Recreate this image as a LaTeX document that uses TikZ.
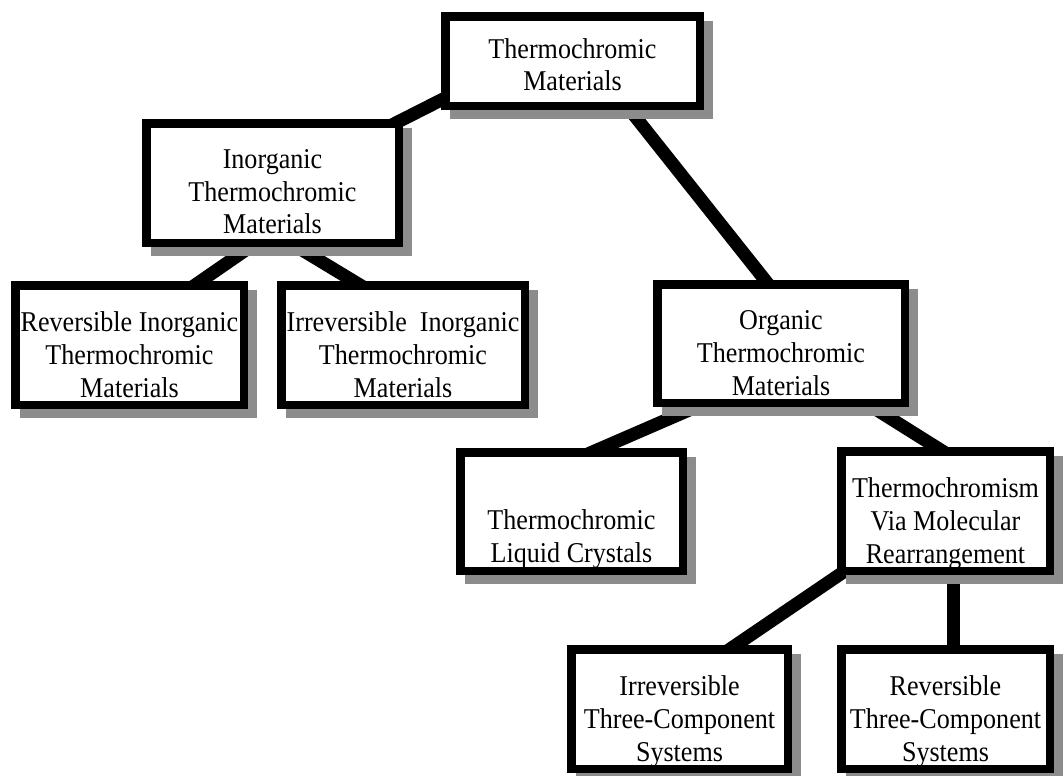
\documentclass[tikz,border=0pt]{standalone}
\usepackage{fontspec}
\setmainfont{Liberation Serif}[FakeStretch=0.91]
\pgfdeclarelayer{links}
\pgfsetlayers{links,main}
\definecolor{shade}{gray}{0.55}
\begin{document}
\begin{tikzpicture}[x=0.75pt,y=-0.75pt,
  box/.style={draw=black, line width=6.375pt, fill=white, inner sep=0pt, outer sep=0pt,
    preaction={draw=shade, fill=shade, line width=6.375pt,
      transform canvas={xshift=6.75pt,yshift=-6.75pt}}},
  txt/.style={inner sep=0pt, align=center, anchor=south, text depth=0pt,
    font=\fontsize{21.5}{24.5}\selectfont},
  link/.style={draw=black, line width=9.75pt, line cap=butt}
]
\useasboundingbox (0,0) rectangle (1063,775);

% boxes
\node[box, minimum width=190.875pt, minimum height=67.125pt] (T)   at (572.5,61) {};
\node[box, minimum width=189.375pt, minimum height=89.625pt] (inorg) at (272.5,183) {};
\node[box, minimum width=171.375pt, minimum height=89.625pt] (revin) at (129.5,345) {};
\node[box, minimum width=182.625pt, minimum height=89.625pt] (irrin) at (403,345) {};
\node[box, minimum width=185.625pt, minimum height=88.875pt] (org)   at (781,343.5) {};
\node[box, minimum width=166.875pt, minimum height=88.875pt] (tlc)   at (571.5,511.5) {};
\node[box, minimum width=156.375pt, minimum height=89.625pt] (rearr) at (945.5,511) {};
\node[box, minimum width=162.375pt, minimum height=89.625pt] (irr3)  at (679.5,709) {};
\node[box, minimum width=156.375pt, minimum height=89.625pt] (rev3)  at (945.5,709) {};

% texts
\node[txt] (tT)     at ([yshift=11pt]T.south)      {Thermochromic\\Materials};
\node[txt] (tinorg) at ([yshift=6.5pt]inorg.south) {Inorganic\\Thermochromic\\Materials};
\node[txt] (trevin) at ([yshift=5.5pt]revin.south) {Reversible Inorganic\\Thermochromic\\Materials};
\node[txt] (tirrin) at ([yshift=5.5pt]irrin.south) {Irreversible\ \ Inorganic\\Thermochromic\\Materials};
\node[txt] (torg)   at ([yshift=5.5pt]org.south)   {Organic\\Thermochromic\\Materials};
\node[txt] (ttlc)   at ([yshift=6pt]tlc.south)     {Thermochromic\\Liquid Crystals};
\node[txt] (trearr) at ([yshift=5.5pt]rearr.south) {Thermochromism\\Via Molecular\\Rearrangement};
\node[txt] (tirr3)  at ([yshift=5.5pt]irr3.south)  {Irreversible\\Three-Component\\Systems};
\node[txt] (trev3)  at ([yshift=5.5pt]rev3.south)  {Reversible\\Three-Component\\Systems};

% connectors, kept underneath the shadows and boxes
\begin{pgfonlayer}{links}
\draw[link] ([shift={(-18.75,7.75)}]inorg.north east) -- ([shift={(14.75,-15.35)}]T.south west);
\draw[link] ([shift={(176.75,-5.75)}]T.south west) -- ([shift={(117.25,7.75)}]org.north west);
\draw[link] ([shift={(121.25,-7.75)}]inorg.south west) -- ([shift={(158.15,14.75)}]revin.north west);
\draw[link] ([shift={(131.05,-7.75)}]inorg.south west) -- ([shift={(103.55,14.75)}]irrin.north west);
\draw[link] ([shift={(66.55,-7.75)}]org.south west) -- ([shift={(102.15,12.75)}]tlc.north west);
\draw[link] ([shift={(195.85,-7.75)}]org.south west) -- ([shift={(118.65,10.75)}]rearr.north west);
\draw[link] ([shift={(18.75,-10.05)}]rearr.south west) -- ([shift={(142.65,10.75)}]irr3.north west);
\draw[link] ([shift={(7.5,-10.75)}]rearr.south) -- ([shift={(7.5,10.75)}]rev3.north);
\end{pgfonlayer}
\end{tikzpicture}
\end{document}
